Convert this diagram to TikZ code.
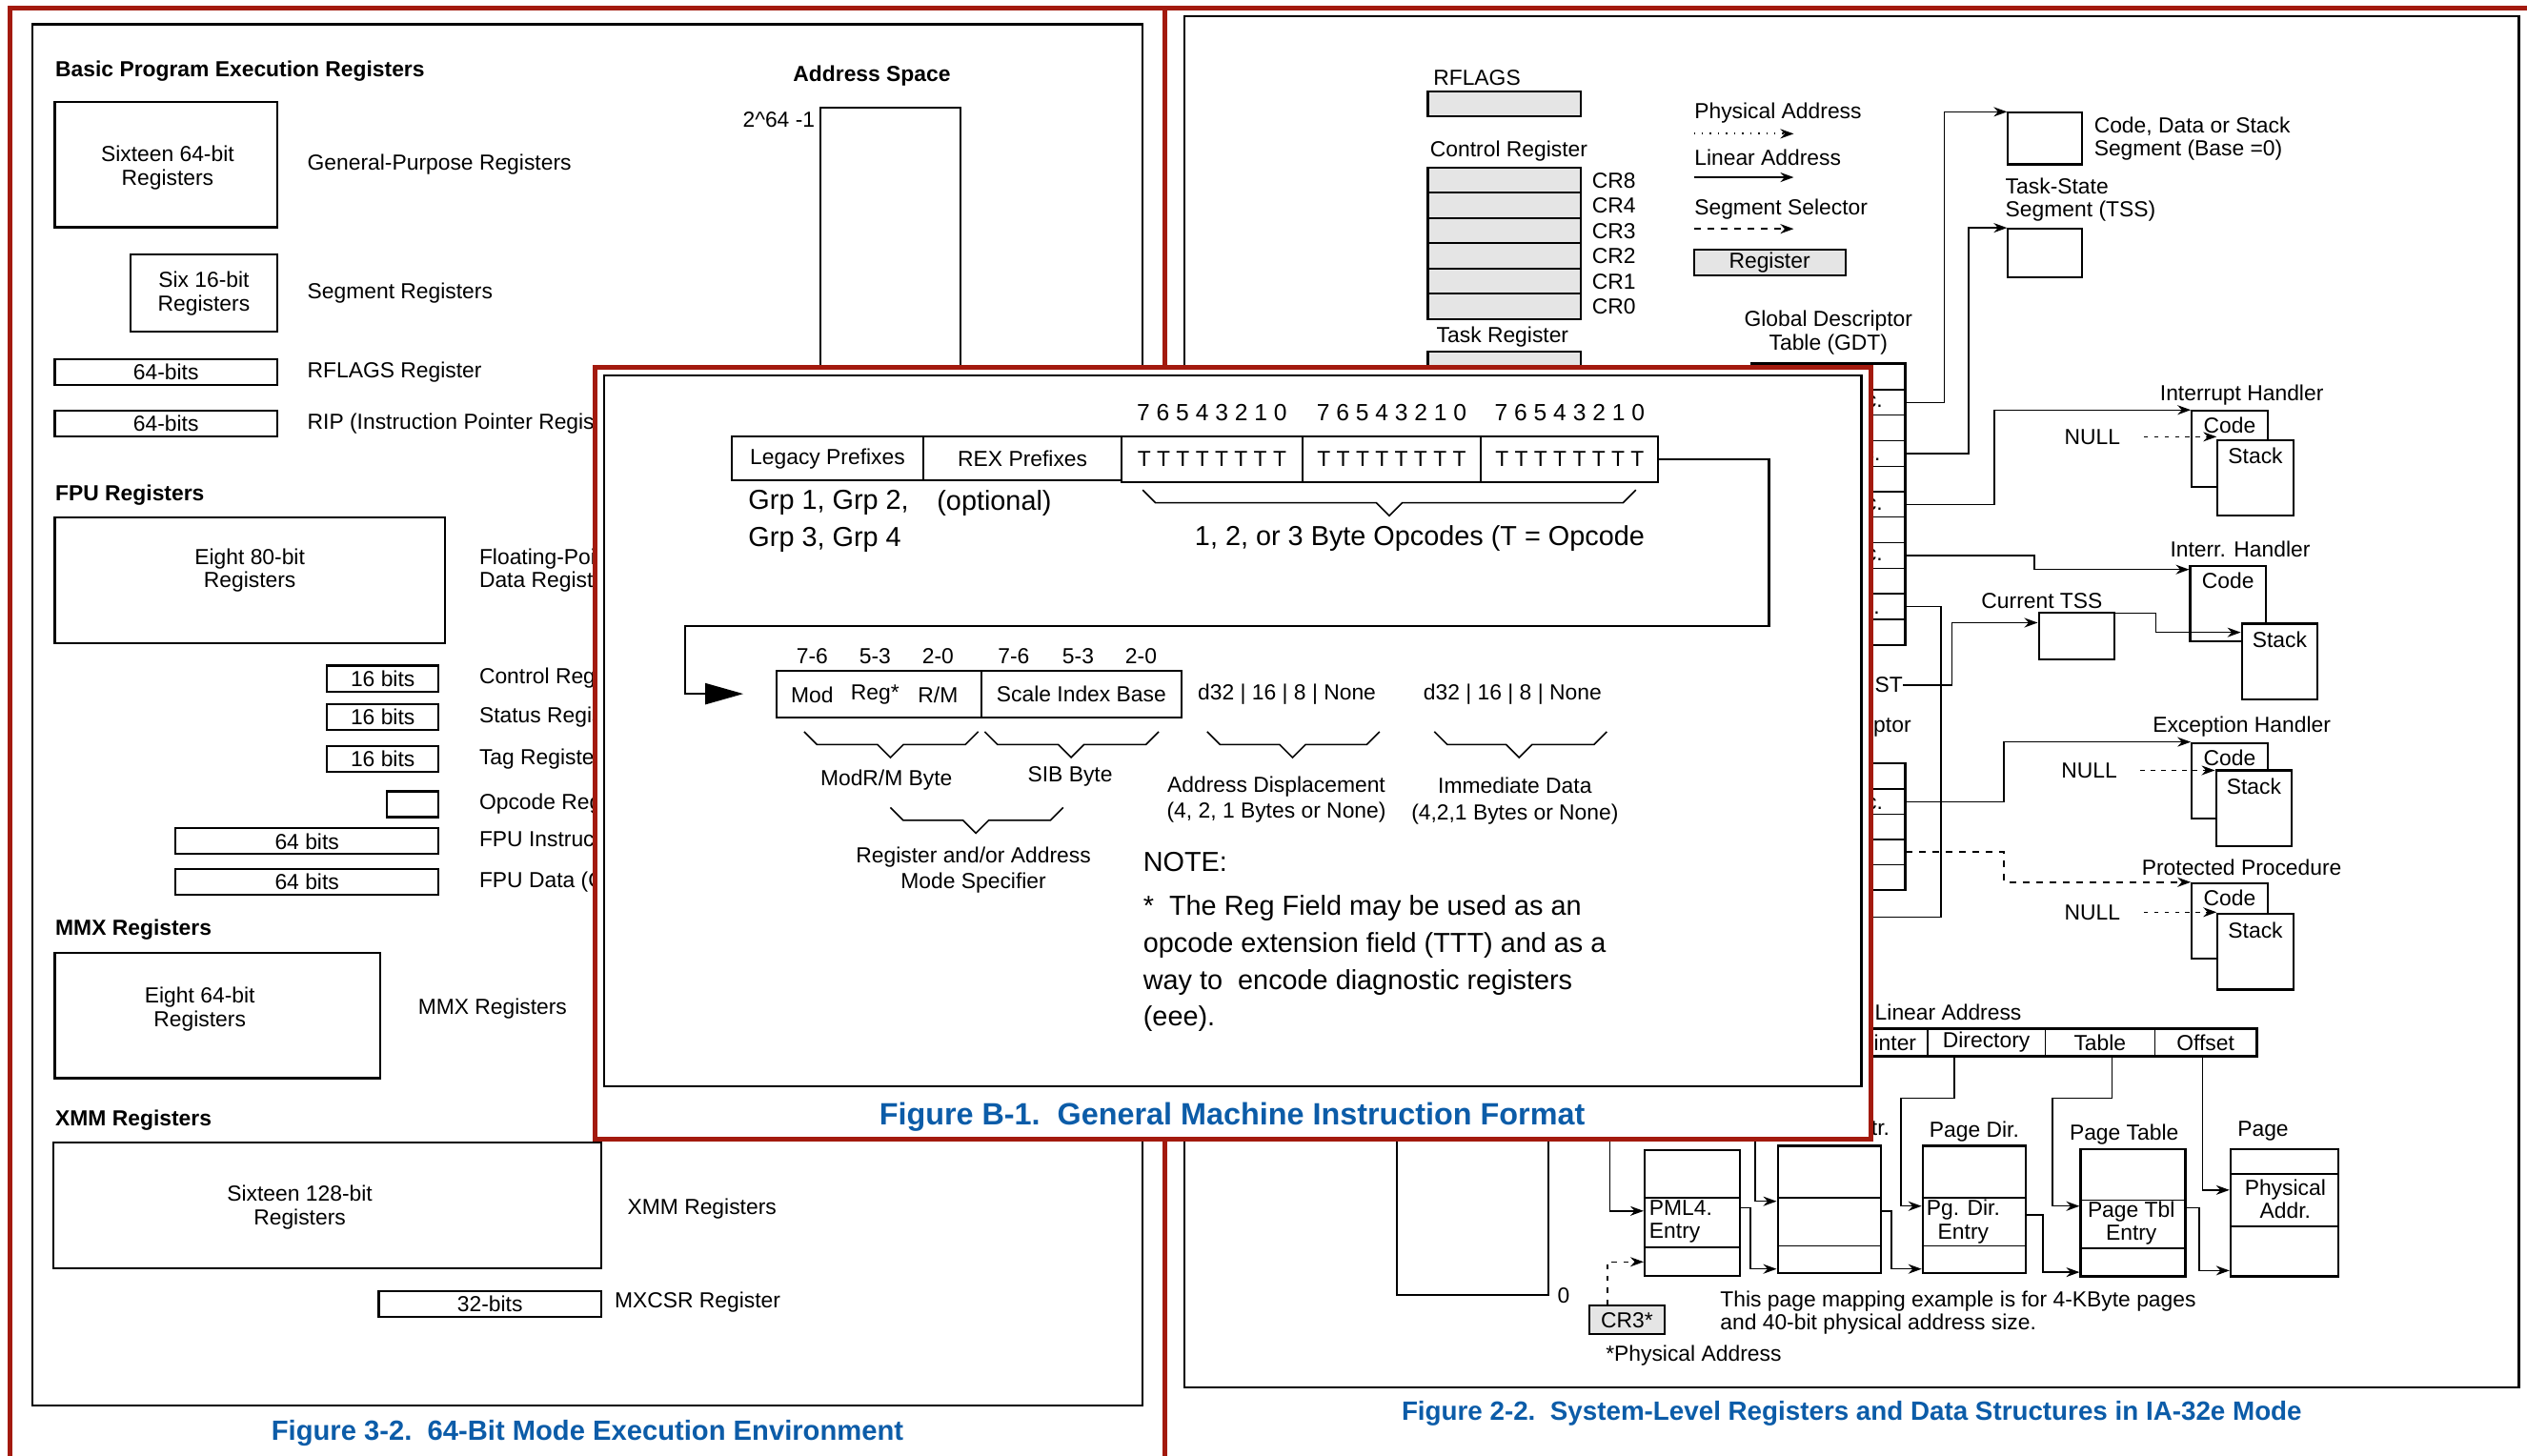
\documentclass[tikz,border=0pt]{standalone}
\usepackage{fontspec}
\setmainfont{Liberation Sans}
\usetikzlibrary{arrows.meta,positioning,fit,calc}
\definecolor{framered}{RGB}{163,26,14}
\definecolor{figblue}{RGB}{12,92,168}
\newcommand{\fs}{\fontsize{6.5}{7}\selectfont}
\newcommand{\fsb}{\fontsize{8.2}{11}\selectfont}

\begin{document}
\begin{tikzpicture}[
    x=0.016913cm, y=-0.016913cm,
    reg/.style={draw, line width=0.6pt, inner sep=0pt, align=center, font=\fs},
    greg/.style={reg, fill=black!10},
    txt/.style={label={[lbl, align=center]center:#1}},
    panel/.style={draw, line width=0.7pt, inner sep=0pt},
    lbl/.style={font=\fs, inner sep=0pt, align=left},
    hdr/.style={font=\fs\bfseries, inner sep=0pt, anchor=west},
    cap/.style={text=figblue, inner sep=0pt, font=\fontsize{#1}{#1}\selectfont\bfseries},
    big/.style={font=\fsb, inner sep=0pt, align=left},
    small/.style={font=\fontsize{6.5}{7.7}\selectfont, inner sep=0pt, align=center},
    redline/.style={draw=framered, line width=1.4pt},
    conn/.style={line width=0.4pt, -{Stealth[length=0.14cm, width=0.1cm]}},
    wire/.style={line width=0.4pt},
    nullarrow/.style={conn, dash pattern=on 1.3pt off 1.8pt},
    brc/.style={line width=0.45pt}
]
\useasboundingbox (0,0) rectangle (1568,903);

% ---------- Figure 3-2 ----------
\node[panel, fit={(20,15) (709,872)}] (lpanel) {};
\node[cap=8.3] (lcap) at (364.5,889) {Figure 3-2.\ \ 64-Bit Mode Execution Environment};

\node[hdr] (bper) at (34,44) {Basic Program Execution Registers};
\node[hdr, anchor=center] (ashdr) at (541,47) {Address Space};
\node[reg, fit={(509,67) (596,330)}] (aspace) {};
\node[lbl, anchor=east] (atop) at (506,74) {2\textasciicircum 64 -1};

\node[reg, fit={(34,63) (172,141)}] (gpr) {};
\node[lbl, align=center] (gprt) at (104,104) {Sixteen 64-bit\\Registers};
\node[lbl, right=0.3cm of gpr] (gprl) {General-Purpose Registers};
\node[reg, fit={(81,158) (172,206)}, txt={Six 16-bit\\Registers}] (sreg) {};
\node[lbl, right=0.3cm of sreg] (sregl) {Segment Registers};
\node[reg, fit={(34,223) (172,239)}, txt={64-bits}] (rflags) {};
\node[lbl, right=0.3cm of rflags] (rflagsl) {RFLAGS Register};
\node[reg, fit={(34,255) (172,271)}, txt={64-bits}] (rip) {};
\node[lbl, right=0.3cm of rip] (ripl) {RIP (Instruction Pointer Register)};

\node[hdr] (fpuh) at (34,307) {FPU Registers};
\node[reg, fit={(34,321) (276,399)}] (fpr) {};
\node[lbl, align=center] (fprt) at (155,354) {Eight 80-bit\\Registers};
\node[lbl, anchor=west] (fprl) at (297,354) {Floating-Point\\Data Registers};
\foreach \y/\xa/\t/\l in {421/203/16 bits/Control Register, 445/203/16 bits/Status Register,
    471/203/16 bits/Tag Register, 499/240//Opcode Register (11-bits),
    522/109/64 bits/FPU Instruction Pointer Register, 547/109/64 bits/FPU Data (Operand) Pointer Register}
{
    \node[reg, fit={(\xa,\y-8) (272,\y+8)}, txt={\t}] (fpu\y) {};
    \node[lbl, anchor=west] (fpul\y) at (297,\y) {\l};
}

\node[hdr] (mmxh) at (34,577) {MMX Registers};
\node[reg, fit={(34,591) (236,669)}] (mmx) {};
\node[lbl, align=center] (mmxt) at (124,626) {Eight 64-bit\\Registers};
\node[lbl, anchor=west] (mmxl) at (259,626) {MMX Registers};

\node[hdr] (xmmh) at (34,695) {XMM Registers};
\node[reg, fit={(33,709) (373,787)}] (xmm) {};
\node[lbl, align=center] (xmmt) at (186,749) {Sixteen 128-bit\\Registers};
\node[lbl, anchor=west] (xmml) at (389,750) {XMM Registers};
\node[reg, fit={(235,801) (373,817)}, txt={32-bits}] (mxcsr) {};
\node[lbl, anchor=west] (mxcsrl) at (381,808) {MXCSR Register};

% ---------- Figure 2-2 ----------
\node[panel, fit={(735,10) (1563,861)}] (rpanel) {};
\node[cap=7.9] (rcap) at (1149,877) {Figure 2-2.\ \ System-Level Registers and Data Structures in IA-32e Mode};

\node[lbl, anchor=west] (rflgl) at (889,48) {RFLAGS};
\node[greg, fit={(886,57) (981,72)}] (rflg) {};
\node[lbl, anchor=west] (crl) at (887,94) {Control Register};
\foreach \c [count=\i from 0] in {8,4,3,2,1,0}
{
    \node[greg, fit={(886,104+\i*15.67) (981,119.67+\i*15.67)}] (cr\c) {};
    \node[lbl, right=0.1cm of cr\c] (crl\c) {CR\c};
}
\node[lbl, anchor=west] (trl) at (891,209) {Task Register};
\node[greg, fit={(886,218) (981,260)}] (treg) {};

% legend
\node[lbl, anchor=west] (lphys) at (1051,70) {Physical Address};
\coordinate (pha) at (1051,83);
\coordinate (phb) at (1113,83);
\draw[conn, dotted, line width=0.6pt] (pha) -- (phb);
\node[lbl, anchor=west] (llin) at (1051,98) {Linear Address};
\coordinate (lia) at (1051,110);
\coordinate (lib) at (1113,110);
\draw[conn, line width=0.6pt] (lia) -- (lib);
\node[lbl, anchor=west] (lsel) at (1051,130) {Segment Selector};
\coordinate (sea) at (1051,142);
\coordinate (seb) at (1113,142);
\draw[conn, dash pattern=on 2pt off 2pt, line width=0.6pt] (sea) -- (seb);
\node[greg, fit={(1051,155) (1145,171)}, txt={Register}] (legreg) {};

% descriptor tables
\node[lbl, align=center] (gdtl) at (1134.5,206.5) {Global Descriptor\\Table (GDT)};
\foreach \i in {1,...,11}
    \node[reg, line width=0.4pt, fit={(1087,210.18+\i*15.82) (1182,226+\i*15.82)}] (gdt\i) {};
\node[reg, fit=(gdt1) (gdt11)] (gdt) {};
\foreach \i/\t in {2/Seg. Desc., 4/TSS Desc., 6/Seg. Desc., 8/Seg. Desc., 10/LDT Desc.}
    \node[lbl] (gdtt\i) at (gdt\i) {\t};

\node[lbl, anchor=east] (ist) at (1181,425) {IST};
\node[lbl, align=center] (idtl) at (1128,458) {Interrupt Descriptor\\Table (IDT)};
\foreach \i in {1,...,5}
    \node[reg, line width=0.4pt, fit={(1087,458.4+\i*15.6) (1182,474+\i*15.6)}] (idt\i) {};
\node[reg, fit=(idt1) (idt5)] (idt) {};
\node[lbl] (idtt2) at (idt2) {Gate Desc.};

% segments
\node[reg, fit={(1246,70) (1292,102)}] (cds) {};
\node[lbl, anchor=west] (cdsl) at (1299,86) {Code, Data or Stack\\Segment (Base =0)};
\node[lbl, anchor=west] (tssl) at (1244,124) {Task-State\\Segment (TSS)};
\node[reg, fit={(1246,142) (1292,172)}] (tss) {};
\node[lbl] (ctssl) at (1267,373) {Current TSS};
\node[reg, fit={(1265,380) (1312,409)}] (ctss) {};

% handlers
\foreach \n/\cx/\cy/\sx/\sy/\t in {ih/1360/255/1376/273/Interrupt Handler,
    ihb/1359/351/1391/387/Interr. Handler, eh/1360/461/1375/478/Exception Handler,
    pp/1360/548/1376/567/Protected Procedure}
{
    \node[reg, fit={(\cx,\cy) (\cx+47,\cy+47)}] (c\n) {};
    \node[lbl] (ct\n) at (\cx+23.5,\cy+9) {Code};
    \node[reg, fill=white, fit={(\sx,\sy) (\sx+47,\sy+47)}] (s\n) {};
    \node[lbl] (st\n) at (\sx+23.5,\sy+10) {Stack};
    \node[lbl] (ht\n) at (\cx+31,\cy-10) {\t};
}
\foreach \n/\x/\y in {ih/1316/271, eh/1314/478, pp/1316/566}
{
    \node[lbl, anchor=east] (null\n) at (\x,\y) {NULL};
    \draw[nullarrow, shorten <=0.24cm] (null\n.east) -- (null\n.east -| s\n.west);
}

\coordinate (ldt) at (1140,569);
\draw[conn] (gdt2.east) -- ++(24,0) |- (cds.north west);
\draw[conn] (gdt4.east) -- ++(39,0) |- (tss.north west);
\draw[conn] (gdt6.east) -- ++(55,0) |- (cih.north west);
\draw[conn] (gdt8.east) -- ++(80,0) |- ($(cihb.north west)+(0,3)$);
\draw[wire] (gdt10.east) -- ++(22,0) |- (ldt);
\draw[conn] (ist.east) -- ++(30,0) |- ($(ctss.north west)+(0,7)$);
\draw[conn] ($(ctss.north east)+(0,1)$) -- ++(25,0) |- ($(sihb.north west)+(0,6)$);
\draw[conn] (idt2.east) -- ++(61,0) |- (ceh.north west);
\draw[conn, dash pattern=on 2pt off 2pt] (idt4.east) -- ++(61,0) |- (cpp.north west);

% paging
\node[lbl, anchor=west] (lal) at (1163,628) {Linear Address};
\foreach \n/\xa/\xb/\t in {la1/1050/1114/PML4, la2/1114/1196/Dir. Pointer, la3/1196/1269/Directory,
    la4/1269/1337/Table, la5/1337/1400/Offset}
    \node[reg, line width=0.4pt, fit={(\xa,638.5) (\xb,655)}, txt={\t}] (\n) {};
\node[reg, fit=(la1) (la5)] (la) {};

\foreach \n/\xa/\ya/\xb/\yb/\ra/\rb in {pml4/1020.5/713.6/1079.6/791.7/743/774,
    pdp/1103/711/1167/790/743/773, pgd/1193/711/1257/790/743/773,
    ptb/1291/713/1356/792/744.6/774.6, pg/1384/713/1451/792/728.6/761}
{
    \node[reg, fit={(\xa,\ya) (\xb,\yb)}] (\n) {};
    \draw[line width=0.5pt] (\n.west |- 0,\ra) -- (\n.east |- 0,\ra)
        (\n.west |- 0,\rb) -- (\n.east |- 0,\rb);
}
\node[lbl] (pml4l) at (1040,699) {PML4};
\node[lbl] (pdpl) at (1137,701) {Pg. Dir. Ptr.};
\node[lbl] (pgdl) at (1225,702) {Page Dir.};
\node[lbl] (ptbl) at (1318,704) {Page Table};
\node[lbl, anchor=west] (pgl) at (1388,702) {Page};
\node[lbl, anchor=west] (pml4t) at (1023,758) {PML4.\\Entry};
\node[lbl, anchor=west, align=center] (pgdt) at (1195,758) {Pg. Dir.\\Entry};
\node[lbl, anchor=west, align=center] (ptbt) at (1295,759) {Page Tbl\\Entry};
\node[lbl, align=center] (pgt) at (1418,744) {Physical\\Addr.};

\node[reg, fit={(867,600) (961,803.5)}] (lspace) {};
\node[lbl, anchor=west] (zero) at (966,804) {0};
\node[greg, fit={(986,810) (1033,828)}, txt={CR3*}] (cr3) {};
\node[lbl, anchor=west] (phnote) at (996,841) {*Physical Address};
\node[lbl, anchor=west] (pgnote) at (1067,814.5) {This page mapping example is for 4-KByte pages\\and 40-bit physical address size.};

\coordinate (pmlin) at (999,695);
\coordinate (dpin) at (1089,695);
\draw[conn] (pmlin) |- ($(pml4.north west)+(0,38.4)$);
\draw[conn, dash pattern=on 1.5pt off 2pt] ($(cr3.north west)+(12,0)$) |- ($(pml4.north west)+(0,70)$);
\draw[conn] (dpin) |- ($(pdp.north west)+(0,35)$);
\draw[conn] ($(pml4.north east)+(0,36.4)$) -- ++(6,0) |- ($(pdp.north west)+(0,77)$);
\draw[conn] ($(pdp.north east)+(0,41)$) -- ++(6,0) |- ($(pgd.north west)+(0,77)$);
\draw[conn] ($(pgd.north east)+(0,43.5)$) -- ++(10,0) |- ($(ptb.north west)+(0,77)$);
\draw[conn] ($(ptb.north east)+(0,37)$) -- ++(8,0) |- ($(pg.north west)+(0,76)$);
\draw[conn] ($(la3.south west)+(17,0)$) |- ++(-33,26) |- ($(pgd.north west)+(0,38)$);
\draw[conn] ($(la4.south west)+(42,0)$) |- ++(-37,26) |- ($(ptb.north west)+(0,36)$);
\draw[conn] ($(la5.south west)+(30,0)$) |- ($(pg.north west)+(0,26)$);

% ---------- frames ----------
\draw[redline] (6,910) -- (6,5) -- (1575,5);
\draw[redline] (723,5) -- (723,910);

% ---------- Figure B-1 ----------
\node[draw=framered, line width=1.4pt, fill=white, inner sep=0pt, fit={(369,228) (1161,707)}] (bframe) {};
\node[panel, fit={(375,233) (1155,674)}] (bpanel) {};
\node[cap=9.2] (bcap) at (764.5,693) {Figure B-1.\ \ General Machine Instruction Format};

\node[reg, fit={(454,271) (573,298)}, txt={Legacy Prefixes}] (legacy) {};
\node[reg, fit={(573,271) (696,298)}, txt={REX Prefixes}] (rex) {};
\foreach \i/\xa/\xb in {1/696/808, 2/808/919, 3/919/1029}
{
    \node[reg, fit={(\xa,271) (\xb,299)}, txt={T T T T T T T T}] (op\i) {};
    \node[font=\fontsize{7}{8}\selectfont, inner sep=0pt, above=0.15cm of op\i] (bits\i) {7 6 5 4 3 2 1 0};
}
\node[big, anchor=west] (grp) at (464,323.5) {Grp 1, Grp 2,\\Grp 3, Grp 4};
\node[big, anchor=west] (opt) at (581,312) {(optional)};
\node[big, anchor=west] (opc) at (741,334) {1, 2, or 3 Byte Opcodes (T = Opcode};

\node[reg, fit={(482,416) (609,445)}] (modrm) {};
\node[reg, fit={(609,416) (733,445)}, txt={Scale Index Base}] (sib) {};
\draw[line width=0.6pt, -{Triangle[length=0.4cm, width=0.22cm]}, shorten >=0.34cm]
    (op3.east) -- ++(68,0) |- ++(-672.4,103.5) |- (modrm.west);
\foreach \x/\b/\f in {504/7-6/Mod, 543/5-3/Reg*, 582/2-0/{R/M}}
{
    \node[small] (mb\x) at (\x,407) {\b};
    \node[small] (mf\x) at (\x,431) {\f};
}
\foreach \x/\b in {629/7-6, 669/5-3, 708/2-0}
    \node[small] (sb\x) at (\x,407) {\b};
\node[small] (disp) at (798.5,431) {d32 | 16 | 8 | None};
\node[small] (imm) at (938.5,431) {d32 | 16 | 8 | None};

\foreach \xa/\xm/\xb/\yt in {709/862/1015/304, 499/552.5/607/454, 611/664.6/719/454,
    749/802/856/454, 890/942.6/997/454, 552.5/605.5/659.7/501}
    \draw[brc] (\xa,\yt) -- ++(8,8) -- (\xm-8,\yt+8) -- (\xm,\yt+16) -- (\xm+8,\yt+8)
        -- (\xb-8,\yt+8) -- (\xb,\yt);

\node[small] (modrml) at (550,484) {ModR/M Byte};
\node[small] (sibl) at (664,482) {SIB Byte};
\node[small] (displ) at (792,496) {Address Displacement\\(4, 2, 1 Bytes or None)};
\node[small] (imml) at (940,497) {Immediate Data\\(4,2,1 Bytes or None)};
\node[small] (spec) at (604,540) {Register and/or Address\\Mode Specifier};
\node[big, anchor=west] (note) at (709,535) {NOTE:};
\node[big, anchor=west] (notet) at (709,598) {*\ \ The Reg Field may be used as an\\opcode extension field (TTT) and as a\\way to\ \ encode diagnostic registers\\(eee).};
\end{tikzpicture}
\end{document}
